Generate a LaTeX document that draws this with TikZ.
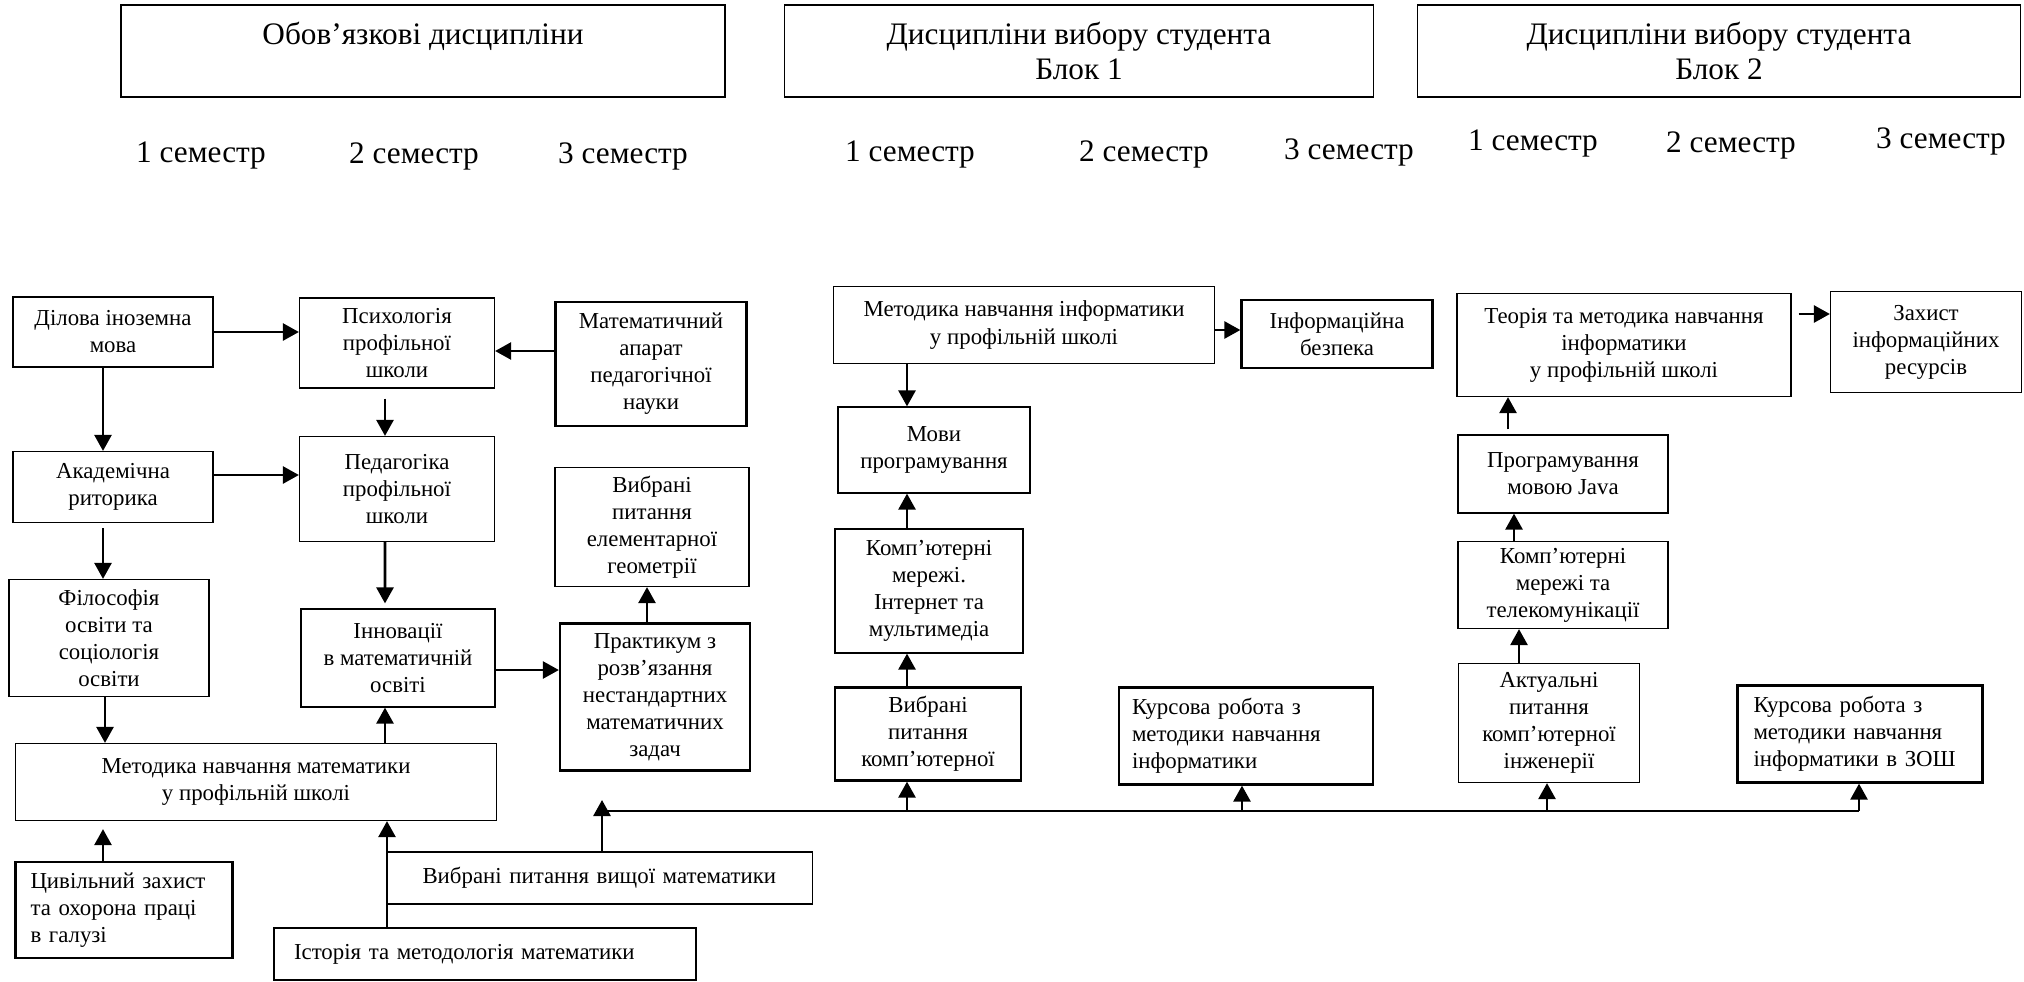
\documentclass[tikz,border=0pt]{standalone}
\usepackage{fontspec}
\setmainfont{Liberation Serif}
\usetikzlibrary{arrows.meta}

\newcommand{\bodyfont}{\fontsize{6.5}{7.7}\selectfont}
\newcommand{\headfont}{\fontsize{8.9}{9.9}\selectfont}

\tikzset{
  box/.style={draw, line width=0.35pt, align=center, inner sep=0pt, font=\bodyfont},
  thickbox/.style={box, line width=0.65pt},
  leftbox/.style={align=left},
  headbox/.style={draw, line width=0.35pt, align=center, inner sep=0pt, font=\headfont, minimum height=0.92cm},
  sem/.style={font=\headfont},
  arr/.style={line width=0.75pt, -{Triangle[length=1.6mm,width=1.7mm]}},
  busline/.style={line width=0.75pt}
}

\begin{document}
\begin{tikzpicture}
      \useasboundingbox (0, 0) rectangle (20.24, -9.81);

      \node[headbox, minimum width=6.04cm] (oblig) at (4.23, -0.51) {Обов’язкові дисципліни\\\mbox{}};
      \node[headbox, minimum width=5.89cm] (block1) at (10.79, -0.51) {Дисципліни вибору студента\\Блок 1};
      \node[headbox, minimum width=6.03cm] (block2) at (17.19, -0.51) {Дисципліни вибору студента\\Блок 2};

      \node[sem] (sem11) at (2.01, -1.55) {1 семестр};
      \node[sem] (sem12) at (4.14, -1.56) {2 семестр};
      \node[sem] (sem13) at (6.23, -1.56) {3 семестр};
      \node[sem] (sem21) at (9.10, -1.54) {1 семестр};
      \node[sem] (sem22) at (11.44, -1.54) {2 семестр};
      \node[sem] (sem23) at (13.49, -1.52) {3 семестр};
      \node[sem] (sem31) at (15.33, -1.43) {1 семестр};
      \node[sem] (sem32) at (17.31, -1.45) {2 семестр};
      \node[sem] (sem33) at (19.41, -1.41) {3 семестр};

      \node[box, minimum width=2.00cm, minimum height=0.70cm] (dilova) at (1.13, -3.32) {Ділова іноземна\\мова};
      \node[box, minimum width=2.00cm, minimum height=0.71cm] (akadem) at (1.13, -4.87) {Академічна\\риторика};
      \node[box, minimum width=2.00cm, minimum height=1.17cm] (filos) at (1.09, -6.38) {Філософія\\освіти та\\соціологія\\освіти};
      \node[box, minimum width=4.81cm, minimum height=0.77cm] (metmat) at (2.56, -7.82) {Методика навчання математики\\у профільній школі};
      \node[thickbox, leftbox, text width=1.87cm, inner xsep=0.15cm, minimum height=0.96cm] (tsyv) at (1.24, -9.10) {Цивільний захист\\та охорона праці\\в галузі};

      \node[box, minimum width=1.95cm, minimum height=0.90cm] (psykh) at (3.97, -3.43) {Психологія\\профільної\\школи};
      \node[box, minimum width=1.95cm, minimum height=1.05cm] (pedag) at (3.97, -4.89) {Педагогіка\\профільної\\школи};
      \node[box, minimum width=1.94cm, minimum height=0.98cm] (innov) at (3.98, -6.58) {Інновації\\в математичній\\освіті};

      \node[thickbox, minimum width=1.91cm, minimum height=1.24cm] (matap) at (6.51, -3.64) {Математичний\\апарат\\педагогічної\\науки};
      \node[box, minimum width=1.94cm, minimum height=1.19cm] (geom) at (6.52, -5.27) {Вибрані\\питання\\елементарної\\геометрії};
      \node[thickbox, minimum width=1.90cm, minimum height=1.47cm] (prakt) at (6.55, -6.97) {Практикум з\\розв’язання\\нестандартних\\математичних\\задач};

      \node[box, leftbox, text width=3.55cm, inner xsep=0.35cm, minimum height=0.52cm] (vyshch) at (6.00, -8.78) {Вибрані питання вищої математики};
      \node[thickbox, leftbox, text width=3.82cm, inner xsep=0.20cm, minimum height=0.52cm] (istor) at (4.85, -9.54) {Історія та методологія математики};

      \node[box, minimum width=3.81cm, minimum height=0.77cm] (metinf) at (10.24, -3.25) {Методика навчання інформатики\\у профільній школі};
      \node[thickbox, minimum width=1.91cm, minimum height=0.68cm] (bezp) at (13.37, -3.34) {Інформаційна\\безпека};
      \node[box, minimum width=1.92cm, minimum height=0.86cm] (movy) at (9.34, -4.50) {Мови\\програмування};
      \node[box, minimum width=1.88cm, minimum height=1.24cm] (merezhi) at (9.29, -5.91) {Комп’ютерні\\мережі.\\Інтернет та\\мультимедіа};
      \node[thickbox, minimum width=1.86cm, minimum height=0.93cm] (vybkomp) at (9.28, -7.34) {Вибрані\\питання\\комп’ютерної};
      \node[thickbox, leftbox, text width=2.28cm, inner xsep=0.13cm, minimum height=0.97cm] (kursinf) at (12.46, -7.36) {Курсова робота з\\методики навчання\\інформатики};

      \node[box, minimum width=3.34cm, minimum height=1.03cm] (teor) at (16.24, -3.45) {Теорія та методика навчання\\інформатики\\у профільній школі};
      \node[box, minimum width=1.91cm, minimum height=1.01cm] (zakhyst) at (19.26, -3.42) {Захист\\інформаційних\\ресурсів};
      \node[box, minimum width=2.10cm, minimum height=0.78cm] (java) at (15.63, -4.74) {Програмування\\мовою Java};
      \node[box, minimum width=2.10cm, minimum height=0.87cm] (telekom) at (15.63, -5.85) {Комп’ютерні\\мережі та\\телекомунікації};
      \node[box, minimum width=1.81cm, minimum height=1.19cm] (aktual) at (15.49, -7.23) {Актуальні\\питання\\комп’ютерної\\інженерії};
      \node[thickbox, leftbox, text width=2.13cm, inner xsep=0.16cm, minimum height=0.97cm] (kurszosh) at (18.60, -7.34) {Курсова робота з\\методики навчання\\інформатики в ЗОШ};

      \draw[arr] (dilova.east) -- (dilova.east -| psykh.west);
      \draw[arr] ([xshift=-0.1cm]dilova.south) -- ([xshift=-0.1cm]akadem.north);
      \draw[arr] ([yshift=0.13cm]matap.west) -- ([yshift=0.13cm]matap.west -| psykh.east);
      \draw[arr] ([xshift=-0.12cm, yshift=-0.1cm]psykh.south) -- ([xshift=-0.12cm]pedag.north);
      \draw[arr] ([yshift=0.12cm]akadem.east) -- ([yshift=0.12cm]akadem.east -| pedag.west);
      \draw[arr] ([xshift=-0.1cm, yshift=-0.05cm]akadem.south) -- ([xshift=-0.06cm]filos.north);
      \draw[arr] ([xshift=-0.12cm]pedag.south) -- ([xshift=-0.13cm, yshift=0.05cm]innov.north);
      \draw[arr] ([yshift=-0.12cm]innov.east) -- ([yshift=-0.12cm]innov.east -| prakt.west);
      \draw[arr] ([xshift=-0.08cm]prakt.north) -- ([xshift=-0.08cm]prakt.north |- geom.south);
      \draw[arr] ([xshift=-0.04cm]filos.south) -- ([xshift=-0.04cm]filos.south |- metmat.north);
      \draw[arr] ([xshift=-0.13cm]innov.south |- metmat.north) -- ([xshift=-0.13cm]innov.south);
      \draw[arr] ([xshift=-0.21cm]tsyv.north) -- ([xshift=-0.21cm, yshift=-0.08cm]tsyv.north |- metmat.south);
      \draw[arr] ([xshift=-0.98cm]istor.north) -- ([xshift=-0.98cm]istor.north |- metmat.south);

      \coordinate (vtip) at (6.02, -8.00);
      \coordinate (busl) at (6.02, -8.11);
      \coordinate (bus1) at (9.07, -8.11);
      \coordinate (bus2) at (12.42, -8.11);
      \coordinate (bus3) at (15.47, -8.11);
      \coordinate (busr) at (18.59, -8.11);
      \draw[arr] (vyshch.north -| vtip) -- (vtip);
      \draw[busline] (busl) -- (busr);
      \draw[arr] (bus1) -- (bus1 |- vybkomp.south);
      \draw[arr] (bus2) -- (bus2 |- kursinf.south);
      \draw[arr] (bus3) -- (bus3 |- aktual.south);
      \draw[arr] (busr) -- (busr |- kurszosh.south);

      \draw[arr] ([yshift=-0.05cm]metinf.east) -- ([yshift=-0.05cm]metinf.east -| bezp.west);
      \draw[arr] (metinf.south -| bus1) -- (movy.north -| bus1);
      \draw[arr] (merezhi.north -| bus1) -- (movy.south -| bus1);
      \draw[arr] (vybkomp.north -| bus1) -- (merezhi.south -| bus1);

      \draw[arr] ([xshift=0.07cm, yshift=0.31cm]teor.east) -- ([yshift=0.31cm]teor.east -| zakhyst.west);
      \draw[arr] ([xshift=-0.55cm, yshift=0.05cm]java.north) -- ([xshift=-0.55cm]java.north |- teor.south);
      \draw[arr] ([xshift=-0.49cm]telekom.north) -- ([xshift=-0.49cm]telekom.north |- java.south);
      \draw[arr] ([xshift=-0.30cm]aktual.north) -- ([xshift=-0.30cm]aktual.north |- telekom.south);
\end{tikzpicture}
\end{document}
